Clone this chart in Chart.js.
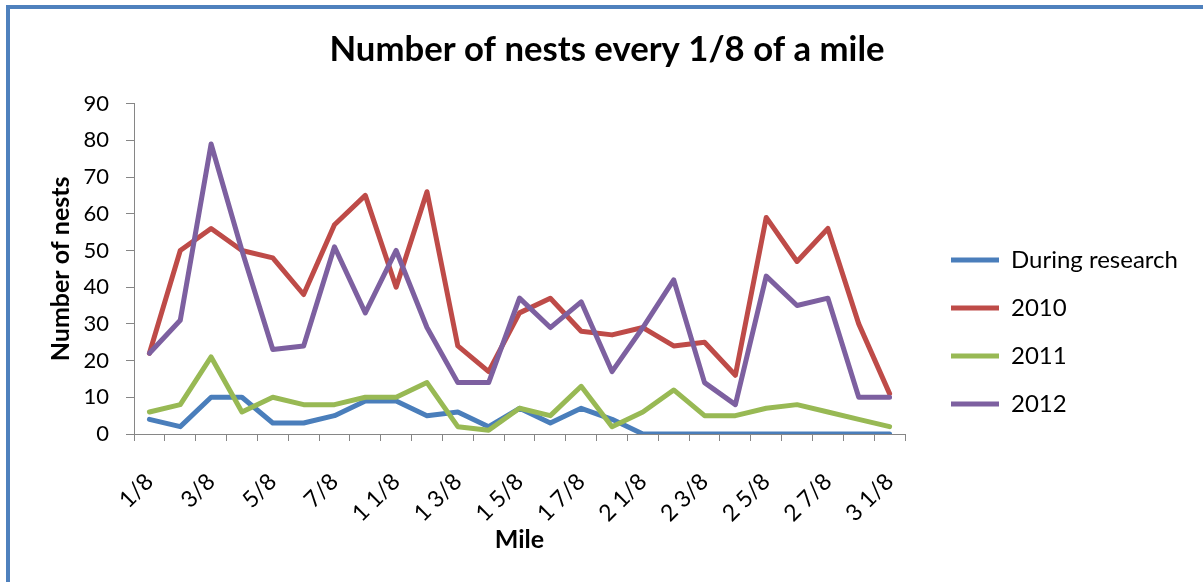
<!DOCTYPE html>
<html>
<head>
<meta charset="utf-8">
<title>Number of nests every 1/8 of a mile</title>
<script src="https://cdn.jsdelivr.net/npm/chart.js@4.4.0/dist/chart.umd.min.js"></script>
<style>
  html, body { margin: 0; padding: 0; background: #fff; overflow: hidden; }
  canvas { display: block; }
</style>
</head>
<body>
<canvas id="nests" width="1203" height="582"></canvas>
<script>
// Mile markers, one every 1/8 of a mile
const miles = ['1/8', '2/8', '3/8', '4/8', '5/8', '6/8', '7/8', '1', '1 1/8', '1 2/8', '1 3/8', '1 4/8',
  '1 5/8', '1 6/8', '1 7/8', '2', '2 1/8', '2 2/8', '2 3/8', '2 4/8', '2 5/8', '2 6/8', '2 7/8', '3', '3 1/8'];

// Nest counts per segment
const duringResearch = [4, 2, 10, 10, 3, 3, 5, 9, 9, 5, 6, 2, 7, 3, 7, 4, 0, 0, 0, 0, 0, 0, 0, 0, 0];
const nests2010 = [22, 50, 56, 50, 48, 38, 57, 65, 40, 66, 24, 17, 33, 37, 28, 27, 29, 24, 25, 16, 59, 47, 56, 30, 11];
const nests2011 = [6, 8, 21, 6, 10, 8, 8, 10, 10, 14, 2, 1, 7, 5, 13, 2, 6, 12, 5, 5, 7, 8, 6, 4, 2];
const nests2012 = [22, 31, 79, 50, 23, 24, 51, 33, 50, 29, 14, 14, 37, 29, 36, 17, 29, 42, 14, 8, 43, 35, 37, 10, 10];

const seriesNames = ['During research', '2010', '2011', '2012'];
const seriesColors = ['#4A7EBB', '#BE4B48', '#98B954', '#7D60A0'];
const seriesValues = [duringResearch, nests2010, nests2011, nests2012];

const yMin = 0, yMax = 90, yStep = 10;

// Layout numbers
const W = 1203, H = 582;
const FONT = 'Lato';
const tickFont = 22;
const legendFont = 24;
const legendPad = 24;
const legendLine = 48;
const legendItemX = 951;
const legendFirstTop = 248;
const plotLeft = 134, plotRight = 905, plotBottom = 434;
const titleShift = 11;

const probe = document.createElement('canvas').getContext('2d');
probe.font = 'normal ' + legendFont + 'px ' + FONT;
const widestName = Math.max(...seriesNames.map(t => probe.measureText(t).width));
const legendWidth = legendPad + legendLine + legendFont / 2 + widestName + 10;
const rightPad = Math.max(0, W - (legendItemX - legendPad) - legendWidth);
const leftPad = rightPad + titleShift;
const gapWidth = Math.max(0, (legendItemX - legendPad) - plotRight);

// The legend spans the full height and is centred; a blank heading above it
// pushes the four entries down beside the plot.
const legendColumn = seriesNames.length * (legendFont + legendPad);
const legendHeadSpace = 2 * legendFirstTop - legendPad - (H - legendColumn);
const legendHeadFont = 12;
const legendHeadPadTop = Math.max(0, legendHeadSpace - legendHeadFont * 1.2);

// White page with the blue chart frame
const framePlugin = {
  id: 'frame',
  beforeDraw(chart) {
    const c = chart.ctx;
    c.save();
    c.fillStyle = '#ffffff';
    c.fillRect(0, 0, chart.width, chart.height);
    c.strokeStyle = '#4F81BD';
    c.lineWidth = 4;
    c.strokeRect(8, 7, chart.width + 40, chart.height + 40);
    c.restore();
  }
};

Chart.defaults.font.family = FONT;
Chart.defaults.color = '#000000';

new Chart(document.getElementById('nests'), {
  type: 'line',
  data: {
    labels: miles,
    datasets: seriesValues.map((vals, i) => ({
      label: seriesNames[i],
      data: vals,
      borderColor: seriesColors[i],
      backgroundColor: seriesColors[i],
      borderWidth: 5,
      borderJoinStyle: 'round',
      borderCapStyle: 'round',
      pointRadius: 0,
      pointHoverRadius: 0,
      tension: 0,
      fill: false,
      order: seriesValues.length - i
    }))
  },
  options: {
    responsive: false,
    devicePixelRatio: 1,
    animation: false,
    events: [],
    layout: { padding: { left: leftPad, top: 0, bottom: 0, right: rightPad } },
    plugins: {
      title: {
        display: true,
        text: 'Number of nests every 1/8 of a mile',
        color: '#000000',
        font: { size: 34.7, weight: 'bold', family: FONT },
        padding: { top: 29, bottom: 33 }
      },
      legend: {
        position: 'right',
        align: 'center',
        fullSize: true,
        title: {
          display: true,
          text: '',
          font: { size: legendHeadFont, family: FONT },
          padding: { top: legendHeadPadTop, bottom: 0 }
        },
        labels: {
          usePointStyle: true,
          pointStyle: 'line',
          pointStyleWidth: legendLine,
          padding: legendPad,
          color: '#000000',
          font: { size: legendFont, family: FONT },
          sort: (a, b) => a.datasetIndex - b.datasetIndex
        }
      },
      tooltip: { enabled: false }
    },
    scales: {
      x: {
        type: 'category',
        offset: true,
        grid: { offset: true, drawOnChartArea: false, tickLength: 7, color: '#868686', lineWidth: 1 },
        border: { color: '#868686', width: 1 },
        ticks: {
          autoSkip: false,
          minRotation: 45,
          maxRotation: 45,
          padding: 27,
          color: '#000000',
          font: { size: 23, family: FONT },
          callback(value, index) { return index % 2 === 0 ? this.getLabelForValue(value) : ''; }
        },
        title: {
          display: true,
          text: 'Mile',
          color: '#000000',
          font: { size: 25, weight: 'bold', family: FONT },
          padding: { top: 0, bottom: 27 }
        },
        afterFit(scale) { scale.height = H - plotBottom; }
      },
      y: {
        min: yMin,
        max: yMax,
        grid: { drawOnChartArea: false, tickLength: 8, color: '#868686', lineWidth: 1 },
        border: { color: '#868686', width: 1 },
        ticks: {
          stepSize: yStep,
          padding: 17,
          color: '#000000',
          font: { size: tickFont, family: FONT }
        },
        title: {
          display: true,
          text: 'Number of nests',
          color: '#000000',
          font: { size: 25, weight: 'bold', family: FONT },
          padding: { top: 20, bottom: 0 }
        },
        afterFit(scale) { scale.width = plotLeft - leftPad; }
      },
      gap: {
        type: 'linear',
        position: 'right',
        display: false,
        afterFit(scale) { scale.width = gapWidth; }
      }
    }
  },
  plugins: [framePlugin]
});
</script>
</body>
</html>
